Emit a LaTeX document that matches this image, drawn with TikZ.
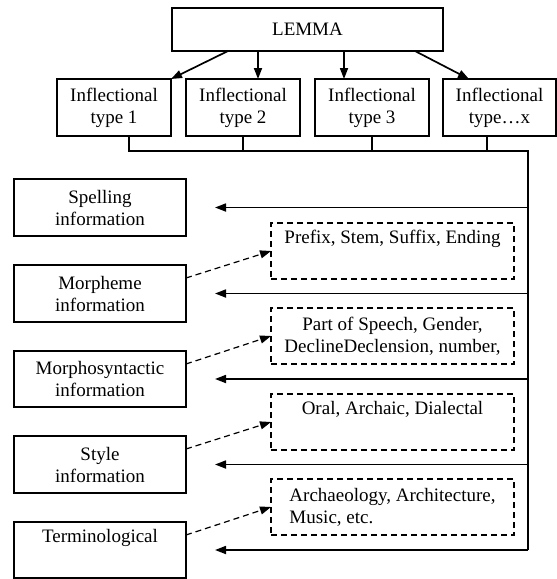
\documentclass[tikz,border=0pt]{standalone}
\usepackage{fontspec}
\setmainfont{Liberation Serif}
\usetikzlibrary{arrows.meta}
\begin{document}
\begin{tikzpicture}[x=1pt,y=-1pt,
  every node/.style={font=\fontsize{19}{22}\selectfont, inner sep=0pt, outer sep=0pt},
  solidbox/.style={draw, line width=1.6pt, anchor=north west, align=center},
  dashbox/.style={draw, line width=1.2pt, dash pattern=on 6pt off 4pt, anchor=north west,
    minimum width=243pt, minimum height=56pt},
  conn/.style={line width=1.7pt},
  tipped/.style={-{Triangle[length=11pt,width=8pt]}},
  dasharrow/.style={line width=1.2pt, dash pattern=on 6pt off 4pt, -{Triangle[length=11pt,width=8pt]}}
]
\useasboundingbox (0,0) rectangle (557,579);

% top
\node[solidbox, minimum width=271pt, minimum height=43pt] (lemma) at (172,8) {LEMMA};
\node[solidbox, minimum width=114pt, minimum height=57pt] (b1) at (57,79) {Inflectional\\type 1};
\node[solidbox, minimum width=114pt, minimum height=57pt] (b2) at (186,79) {Inflectional\\type 2};
\node[solidbox, minimum width=114pt, minimum height=57pt] (b3) at (315,79) {Inflectional\\type 3};
\node[solidbox, minimum width=113pt, minimum height=57pt] (b4) at (443,79) {Inflectional\\type…x};

% left boxes
\node[solidbox, minimum width=172pt, minimum height=57pt] (spell) at (14,179) {Spelling\\information};
\node[solidbox, minimum width=172pt, minimum height=57pt] (morph) at (14,265) {Morpheme\\information};
\node[solidbox, minimum width=172pt, minimum height=56pt] (msyn) at (14,351) {Morphosyntactic\\information};
\node[solidbox, minimum width=172pt, minimum height=57pt] (styl) at (14,436) {Style\\information};
\node[solidbox, minimum width=172pt, minimum height=56pt] (term) at (14,522) {Terminological\\ \strut};

% dashed boxes
\node[dashbox, align=center] (d1) at (271,223) {Prefix, Stem, Suffix, Ending\\ \strut};
\node[dashbox, align=center] (d2) at (271,308) {Part of Speech, Gender,\\DeclineDeclension, number,};
\node[dashbox, align=center] (d3) at (271,394) {Oral, Archaic, Dialectal\\ \strut};
\node[dashbox, align=left] (d4) at (271,479) {Archaeology, Architecture,\\Music, etc.};

% lemma arrows
\draw[conn, tipped] ([xshift=56pt]lemma.south west) -- (b1.north east);
\draw[conn, tipped] ([xshift=86pt]lemma.south west) -- ([xshift=72pt]b2.north west);
\draw[conn, tipped] ([xshift=172pt]lemma.south west) -- ([xshift=29pt]b3.north west);
\draw[conn, tipped] ([xshift=243pt]lemma.south west) -- ([xshift=26pt]b4.north west);

% bus
\coordinate (busR) at (528,151);
\draw[conn] ([xshift=72pt]b1.south west) |- (busR) -- (busR |- term.east);
\draw[conn] (b2.south) -- (b2.south |- busR);
\draw[conn] (b3.south) -- (b3.south |- busR);
\draw[conn] ([xshift=44pt]b4.south west) -- ([xshift=44pt]b4.south west |- busR);

% branch arrows
\foreach \n in {spell,morph,msyn,styl,term}{
  \draw[conn, tipped] (busR |- \n.east) -- ([xshift=29pt]\n.east);
}

% dashed arrows
\draw[dasharrow] ([yshift=-13pt]morph.north east) -- (d1.west);
\draw[dasharrow] ([yshift=-13pt]msyn.north east) -- (d2.west);
\draw[dasharrow] ([yshift=-13pt]styl.north east) -- (d3.west);
\draw[dasharrow] ([yshift=-13pt]term.north east) -- (d4.west);
\end{tikzpicture}
\end{document}
